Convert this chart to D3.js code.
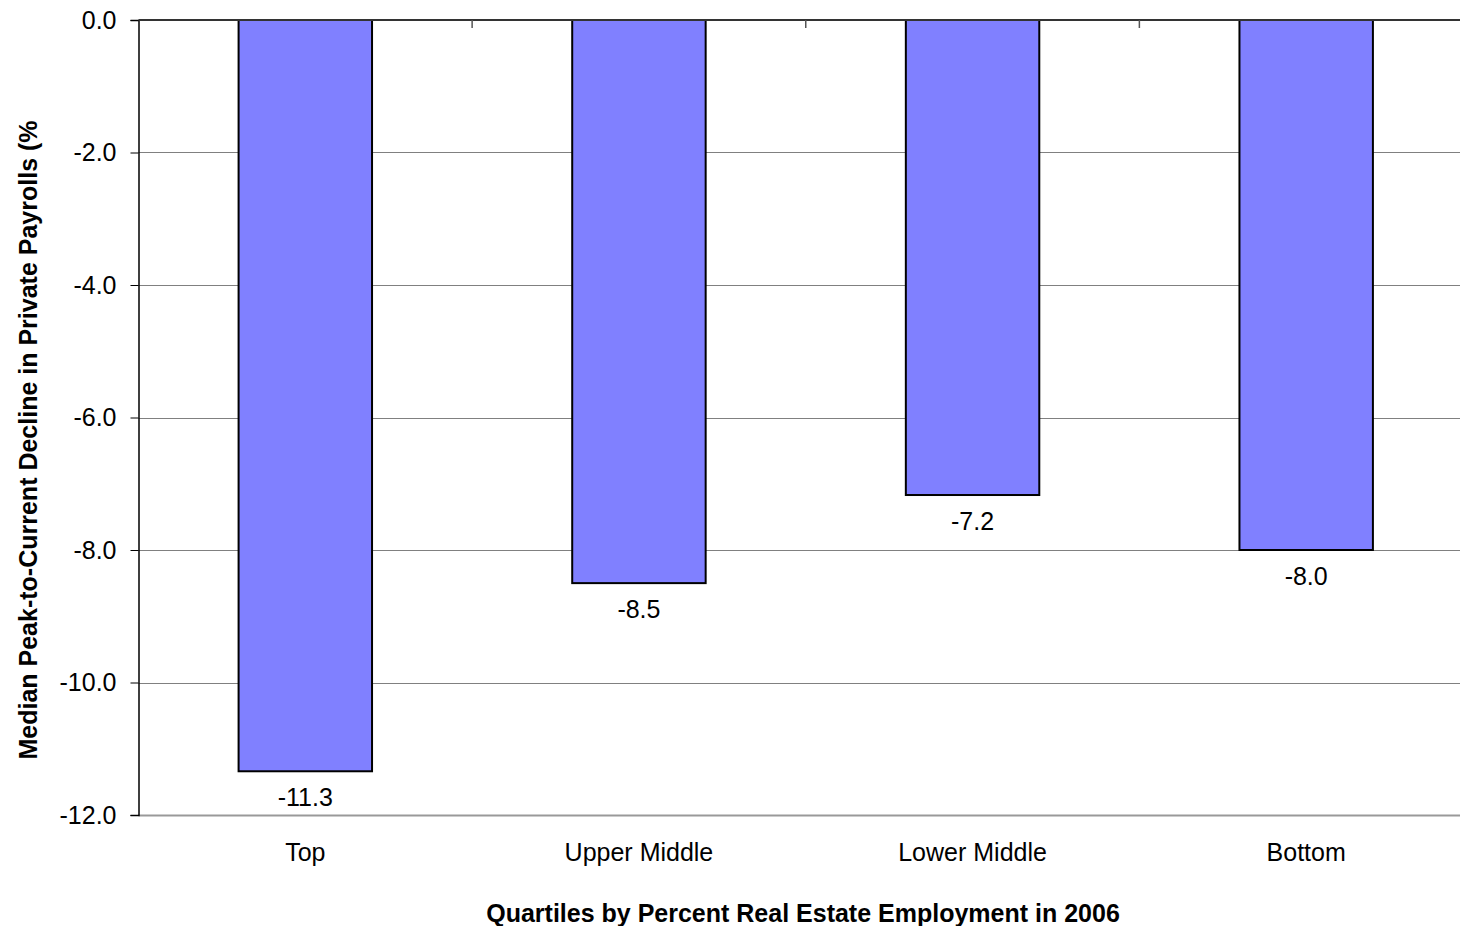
<!DOCTYPE html>
<html>
<head>
<meta charset="utf-8">
<script src="https://cdn.jsdelivr.net/npm/d3@7"></script>
<style>
  body { margin: 0; background: #fff; }
  svg { display: block; font-family: "Liberation Sans", Arial, sans-serif; }
</style>
</head>
<body>
<div class="chart"></div>
<script>
var categories = ["Top", "Upper Middle", "Lower Middle", "Bottom"];
var values = [-11.34, -8.5, -7.17, -8.0];
var yTicks = [0, -2, -4, -6, -8, -10, -12];

var width = 1460, height = 926;
var plotLeft = 138.5, plotRight = 1473, plotTop = 20, plotBottom = 815;

var svg = d3.select(".chart").append("svg")
    .attr("width", width)
    .attr("height", height);

var x = d3.scaleBand()
    .domain(categories)
    .range([plotLeft, plotRight])
    .paddingInner(0.6)
    .paddingOuter(0.3);

var y = d3.scaleLinear()
    .domain([-12, 0])
    .range([plotBottom, plotTop]);

// plain hyphen for negatives, like the original
var fmt = d3.formatLocale({ decimal: ".", thousands: ",", grouping: [3], currency: ["", ""], minus: "-" }).format(".1f");

// gridlines
svg.append("g")
    .selectAll("line")
    .data(yTicks.filter(function (d) { return d !== 0; }))
    .enter().append("line")
    .attr("x1", plotLeft)
    .attr("x2", plotRight)
    .attr("y1", function (d) { return Math.round(y(d)) + 0.5; })
    .attr("y2", function (d) { return Math.round(y(d)) + 0.5; })
    .style("stroke", function (d) { return d === -12 ? "#999" : "#808080"; })
    .style("stroke-width", function (d) { return d === -12 ? 2 : 1; });

// y axis
var yAxis = svg.append("g")
    .attr("transform", "translate(" + plotLeft + ",0)")
    .call(d3.axisLeft(y).tickValues(yTicks).tickFormat(fmt).tickSize(8).tickPadding(14));
yAxis.select(".domain").style("stroke", "#000").style("stroke-width", 1.5);
yAxis.selectAll(".tick line").style("stroke", "#000");
yAxis.selectAll("text")
    .style("font-size", "25px")
    .style("font-family", "'Liberation Sans', Arial, sans-serif")
    .style("fill", "#000");

// bars
svg.append("g")
    .selectAll("rect")
    .data(values)
    .enter().append("rect")
    .attr("x", function (d, i) { return x(categories[i]); })
    .attr("y", y(0))
    .attr("width", x.bandwidth())
    .attr("height", function (d) { return y(d) - y(0); })
    .style("fill", "#8080FF")
    .style("stroke", "#000")
    .style("stroke-width", 2);

// value labels
svg.append("g")
    .selectAll("text")
    .data(values)
    .enter().append("text")
    .attr("x", function (d, i) { return x(categories[i]) + x.bandwidth() / 2; })
    .attr("y", function (d) { return y(d) + 35; })
    .attr("text-anchor", "middle")
    .style("font-size", "25px")
    .text(function (d) { return fmt(d); });

// x axis along zero line (top)
var xAxis = svg.append("g")
    .attr("transform", "translate(0," + y(0) + ")");
xAxis.append("line")
    .attr("x1", plotLeft)
    .attr("x2", plotRight)
    .attr("y1", 0)
    .attr("y2", 0)
    .style("stroke", "#333")
    .style("stroke-width", 2);
xAxis.selectAll(".sep")
    .data(categories.slice(1))
    .enter().append("line")
    .attr("class", "sep")
    .attr("x1", function (d) { return x(d) - x.step() * x.paddingInner() / 2; })
    .attr("x2", function (d) { return x(d) - x.step() * x.paddingInner() / 2; })
    .attr("y1", 0)
    .attr("y2", 8)
    .style("stroke", "#555")
    .style("stroke-width", 1.5);

// category labels
svg.append("g")
    .selectAll("text")
    .data(categories)
    .enter().append("text")
    .attr("x", function (d) { return x(d) + x.bandwidth() / 2; })
    .attr("y", 861)
    .attr("text-anchor", "middle")
    .style("font-size", "25px")
    .text(function (d) { return d; });

// axis titles
svg.append("text")
    .attr("x", 803)
    .attr("y", 922)
    .attr("text-anchor", "middle")
    .style("font-size", "25px")
    .style("font-weight", "bold")
    .text("Quartiles by Percent Real Estate Employment in 2006");

svg.append("text")
    .attr("transform", "translate(37,440) rotate(-90)")
    .attr("text-anchor", "middle")
    .style("font-size", "25px")
    .style("font-weight", "bold")
    .text("Median Peak-to-Current Decline in Private Payrolls (%");
</script>
</body>
</html>
